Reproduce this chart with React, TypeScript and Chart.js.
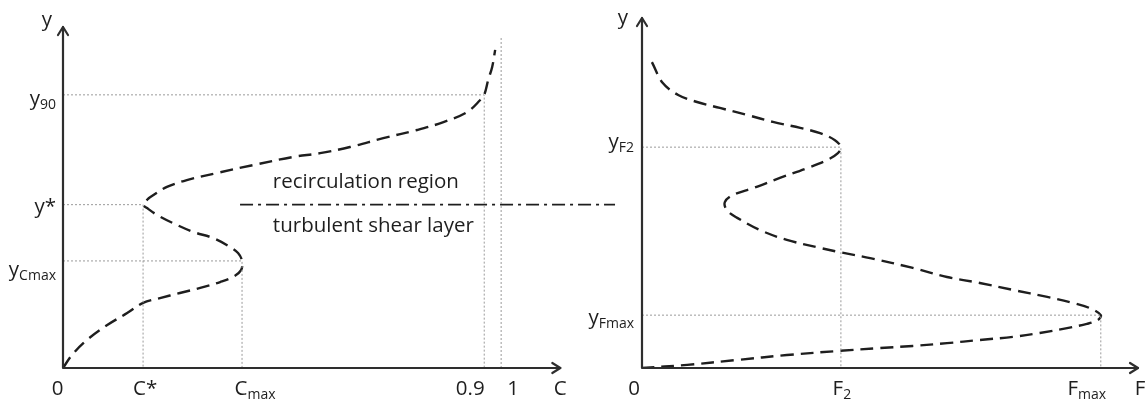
import React, { useEffect, useRef } from 'react';
import { Chart, registerables } from 'chart.js';

Chart.register(...registerables);

// ---------------- DATA (schematic units: each axis runs 0 -> 100 at its arrow tip) ----------------
// Left panel: concentration C versus height y
const concentrationC = [0, 1.8, 4.8, 8.9, 12.9, 16.1, 19.5, 23.5, 27.6, 31.6, 34.2, 35.8, 36.0, 35.2, 33.6, 30.2, 26.2, 22.1, 18.9, 16.9, 16.1, 16.9, 17.5, 20.9, 24.9, 31.0, 38.2, 46.3, 51.7, 57.7, 64.4, 71.2, 76.5, 81.3, 83.9, 84.7, 85.5, 86.3, 86.9];
const concentrationY = [0, 3.8, 8.2, 12.6, 16.1, 19.1, 20.5, 22.0, 23.5, 25.2, 26.7, 28.7, 31.4, 33.7, 35.5, 38.1, 39.9, 42.5, 44.9, 46.9, 47.9, 49.3, 50.1, 53.1, 55.1, 57.2, 59.5, 61.9, 63.0, 64.8, 67.4, 69.8, 72.1, 75.1, 78.6, 80.1, 84.5, 88.3, 93.3];

const cStar = 16.1;
const cMax = 36.0;
const c09 = 84.7;
const c1 = 88.1;
const c1GuideTop = 97.1;
const yStar = 47.9;
const yCmax = 31.4;
const y90 = 80.1;
const interfaceY = 47.9;
const interfaceStart = 35.6;
const interfaceEnd = 111.0;

const cTickValues = [0, cStar, cMax, c09, c1];
const cTickMain = ['0', 'C*', 'C', '0.9', '1'];
const cTickSub = ['', '', 'max', '', ''];
const cYTickValues = [y90, yStar, yCmax];
const cYTickMain = ['y', 'y*', 'y'];
const cYTickSub = ['90', '', 'Cmax'];
const regionLabels = ['recirculation region', 'turbulent shear layer'];
const leftAxisNames = ['C', 'y'];

// Right panel: F versus height y
const fluxF = [2.0, 4.2, 7.3, 11.1, 15.7, 21.2, 26.4, 31.9, 35.9, 38.9, 40.1, 39.5, 37.3, 33.3, 27.8, 22.4, 18.3, 16.7, 17.1, 19.2, 23.8, 29.2, 35.9, 39.9, 46.0, 54.6, 61.5, 68.1, 74.8, 81.7, 86.9, 90.3, 92.5, 91.9, 89.7, 85.7, 80.2, 74.8, 68.1, 61.5, 54.6, 48.0, 39.9, 29.2, 19.2, 9.1, 0];
const fluxY = [87.4, 81.4, 78.0, 76.0, 74.3, 72.3, 70.3, 68.6, 67.1, 65.1, 63.1, 61.4, 59.4, 57.1, 54.3, 51.4, 49.4, 47.4, 45.1, 42.9, 39.4, 36.6, 34.3, 33.1, 31.4, 28.6, 26.0, 24.3, 22.3, 20.3, 18.6, 17.1, 15.1, 13.7, 12.6, 11.4, 10.0, 8.9, 8.0, 7.1, 6.3, 5.7, 4.9, 3.7, 2.3, 0.9, 0];

const f2 = 40.1;
const fMax = 92.5;
const yF2 = 63.1;
const yFmax = 15.1;

const fTickValues = [0, f2, fMax];
const fTickMain = ['0', 'F', 'F'];
const fTickSub = ['', '2', 'max'];
const fYTickValues = [yF2, yFmax];
const fYTickMain = ['y', 'y'];
const fYTickSub = ['F2', 'Fmax'];
const rightAxisNames = ['F', 'y'];

// ---------------- STYLE ----------------
const FONT = '"Open Sans", Lato, sans-serif';
const INK = '#1e1e1e';
const AXIS = '#2e2e2e';
const GUIDE = '#9a9a9a';
const MAIN_SIZE = 20.5;
const SUB_SIZE = 14;

const leftXNudge = [-5.5, 2, 13, -14, 12];
const leftYDy = [10, 8, 15];
const rightXNudge = [-8, 1, -14];
const rightYDy = [1, 9];

function pts(xs: number[], ys: number[]) {
  return xs.map((v, i) => ({ x: v, y: ys[i] }));
}

function curveDataset(data: { x: number; y: number }[]) {
  return {
    data,
    showLine: true,
    borderColor: INK,
    borderWidth: 2.4,
    borderDash: [13, 7],
    pointRadius: 0,
    tension: 0.35,
    fill: false,
  };
}

function guideDataset(data: { x: number; y: number }[]) {
  return {
    data,
    showLine: true,
    borderColor: GUIDE,
    borderWidth: 1,
    borderDash: [2, 2],
    pointRadius: 0,
    tension: 0,
    fill: false,
  };
}

function drawLabel(ctx: CanvasRenderingContext2D, main: string, sub: string, x: number, y: number, align: string) {
  ctx.font = `${MAIN_SIZE}px ${FONT}`;
  const wm = ctx.measureText(main).width;
  ctx.font = `${SUB_SIZE}px ${FONT}`;
  const ws = sub ? ctx.measureText(sub).width : 0;
  const total = wm + ws;
  const start = align === 'center' ? x - total / 2 : align === 'right' ? x - total : x;
  ctx.textAlign = 'left';
  ctx.textBaseline = 'alphabetic';
  ctx.fillStyle = INK;
  ctx.font = `${MAIN_SIZE}px ${FONT}`;
  ctx.fillText(main, start, y);
  if (sub) {
    ctx.font = `${SUB_SIZE}px ${FONT}`;
    ctx.fillText(sub, start + wm, y + 4);
  }
}

function drawAxes(ctx: CanvasRenderingContext2D, ox: number, oy: number, xe: number, ye: number) {
  ctx.save();
  ctx.strokeStyle = AXIS;
  ctx.lineWidth = 2.2;
  ctx.setLineDash([]);
  ctx.lineCap = 'round';
  ctx.lineJoin = 'round';
  ctx.beginPath();
  ctx.moveTo(ox, ye);
  ctx.lineTo(ox, oy);
  ctx.lineTo(xe, oy);
  ctx.stroke();
  ctx.beginPath();
  ctx.moveTo(ox - 5, ye + 8);
  ctx.lineTo(ox, ye);
  ctx.lineTo(ox + 5, ye + 8);
  ctx.moveTo(xe - 8, oy - 5);
  ctx.lineTo(xe, oy);
  ctx.lineTo(xe - 8, oy + 5);
  ctx.stroke();
  ctx.restore();
}

const leftDecor = {
  id: 'leftDecor',
  afterDraw(chart: any) {
    const { ctx } = chart;
    const x = chart.scales.x;
    const y = chart.scales.y;
    const ox = x.getPixelForValue(0);
    const oy = y.getPixelForValue(0);
    const xe = x.getPixelForValue(100);
    const ye = y.getPixelForValue(100);
    drawAxes(ctx, ox, oy, xe, ye);
    ctx.save();
    cTickValues.forEach((v, i) => {
      drawLabel(ctx, cTickMain[i], cTickSub[i], x.getPixelForValue(v) + leftXNudge[i], oy + 27, 'center');
    });
    drawLabel(ctx, leftAxisNames[0], '', xe, oy + 27, 'center');
    cYTickValues.forEach((v, i) => {
      drawLabel(ctx, cYTickMain[i], cYTickSub[i], ox - 7, y.getPixelForValue(v) + leftYDy[i], 'right');
    });
    drawLabel(ctx, leftAxisNames[1], '', ox - 16, ye - 1, 'center');
    ctx.fillStyle = INK;
    ctx.font = `${MAIN_SIZE}px ${FONT}`;
    ctx.textAlign = 'left';
    ctx.textBaseline = 'alphabetic';
    ctx.fillText(regionLabels[0], x.getPixelForValue(42.2), y.getPixelForValue(52.8));
    ctx.fillText(regionLabels[1], x.getPixelForValue(42.2), y.getPixelForValue(39.9));
    ctx.restore();
  },
};

const rightDecor = {
  id: 'rightDecor',
  afterDraw(chart: any) {
    const { ctx } = chart;
    const x = chart.scales.x;
    const y = chart.scales.y;
    const ox = x.getPixelForValue(0);
    const oy = y.getPixelForValue(0);
    const xe = x.getPixelForValue(100);
    const ye = y.getPixelForValue(100);
    drawAxes(ctx, ox, oy, xe, ye);
    ctx.save();
    fTickValues.forEach((v, i) => {
      drawLabel(ctx, fTickMain[i], fTickSub[i], x.getPixelForValue(v) + rightXNudge[i], oy + 27, 'center');
    });
    drawLabel(ctx, rightAxisNames[0], '', xe + 2, oy + 27, 'center');
    fYTickValues.forEach((v, i) => {
      drawLabel(ctx, fYTickMain[i], fYTickSub[i], ox - 8, y.getPixelForValue(v) + rightYDy[i], 'right');
    });
    drawLabel(ctx, rightAxisNames[1], '', ox - 19, ye + 6, 'center');
    ctx.restore();
  },
};

function baseOptions(xMax: number, padding: any) {
  return {
    animation: false as const,
    responsive: false,
    maintainAspectRatio: false,
    layout: { padding },
    plugins: { legend: { display: false }, tooltip: { enabled: false } },
    events: [] as any[],
    scales: {
      x: { type: 'linear' as const, min: 0, max: xMax, display: false },
      y: { type: 'linear' as const, min: 0, max: 100, display: false },
    },
  };
}

export default function App() {
  const leftRef = useRef<HTMLCanvasElement | null>(null);
  const rightRef = useRef<HTMLCanvasElement | null>(null);

  useEffect(() => {
    const left = new Chart(leftRef.current as HTMLCanvasElement, {
      type: 'scatter',
      data: {
        datasets: [
          guideDataset([{ x: 0, y: y90 }, { x: c09, y: y90 }, { x: c09, y: 0 }]),
          guideDataset([{ x: c1, y: 0 }, { x: c1, y: c1GuideTop }]),
          guideDataset([{ x: 0, y: yStar }, { x: cStar, y: yStar }, { x: cStar, y: 0 }]),
          guideDataset([{ x: 0, y: yCmax }, { x: cMax, y: yCmax }, { x: cMax, y: 0 }]),
          {
            data: [{ x: interfaceStart, y: interfaceY }, { x: interfaceEnd, y: interfaceY }],
            showLine: true,
            borderColor: INK,
            borderWidth: 1.7,
            borderDash: [13, 5, 3, 5],
            pointRadius: 0,
            fill: false,
          },
          curveDataset(pts(concentrationC, concentrationY)),
        ] as any,
      },
      options: baseOptions(112, { left: 63, right: 5, top: 27, bottom: 39 }) as any,
      plugins: [leftDecor],
    });

    const right = new Chart(rightRef.current as HTMLCanvasElement, {
      type: 'scatter',
      data: {
        datasets: [
          guideDataset([{ x: 0, y: yF2 }, { x: f2, y: yF2 }, { x: f2, y: 0 }]),
          guideDataset([{ x: 0, y: yFmax }, { x: fMax, y: yFmax }, { x: fMax, y: 0 }]),
          curveDataset(pts(fluxF, fluxY)),
        ] as any,
      },
      options: baseOptions(100, { left: 57, right: 7, top: 18, bottom: 39 }) as any,
      plugins: [rightDecor],
    });

    return () => {
      left.destroy();
      right.destroy();
    };
  }, []);

  return (
    <div style={{ position: 'fixed', left: 0, top: 0, width: 1145, height: 407, background: '#ffffff', overflow: 'hidden' }}>
      <canvas ref={leftRef} width={625} height={407} style={{ position: 'absolute', left: 0, top: 0 }} />
      <canvas ref={rightRef} width={560} height={407} style={{ position: 'absolute', left: 585, top: 0 }} />
    </div>
  );
}
